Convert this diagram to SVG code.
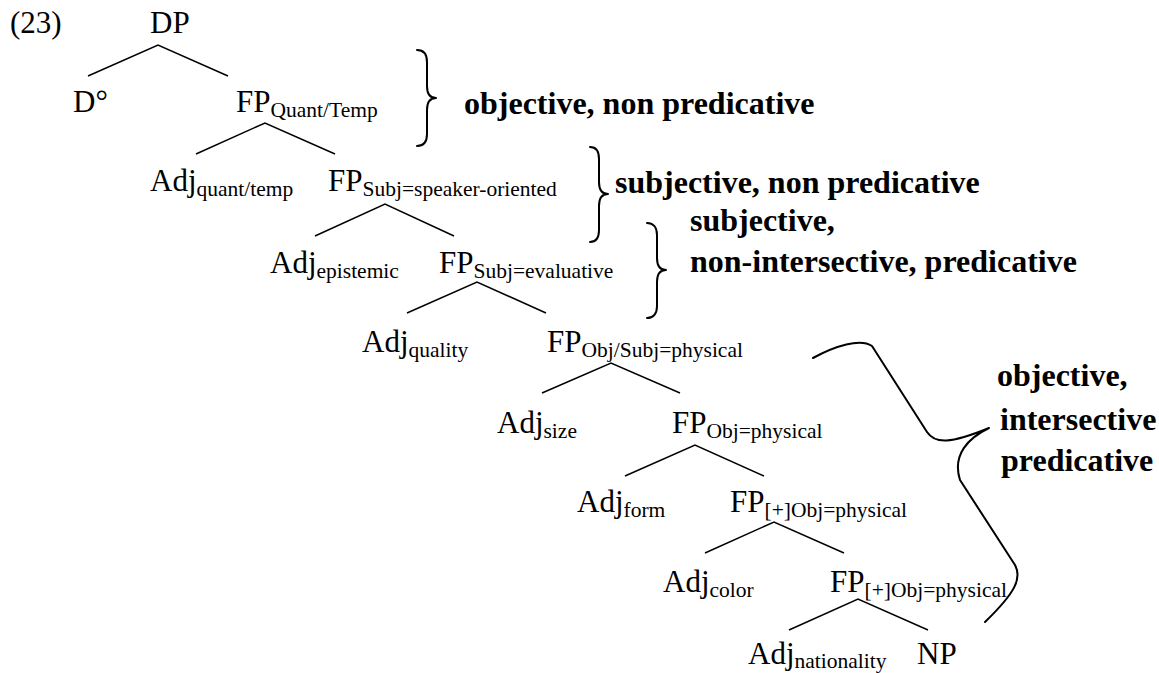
<svg xmlns="http://www.w3.org/2000/svg" width="1159" height="673" viewBox="0 0 1159 673">
<style>
text{font-family:'Liberation Serif','DejaVu Serif','Times New Roman',serif;fill:#000}
.n{font-size:31px}
.s{font-size:21.5px}
.b{font-size:32px;font-weight:bold}
.e{fill:none;stroke:#000;stroke-width:1.5}
.br{fill:none;stroke:#000;stroke-width:2;stroke-linecap:round;stroke-linejoin:round}
</style>
<rect width="1159" height="673" fill="#fff"/>
<g id="label23"><text class="n" x="10" y="33">(23)</text></g>
<g id="DP"><text class="n" x="150" y="33">DP</text></g>
<g id="Dzero"><text class="n" x="73" y="112">D°</text></g>
<g id="FP_QuantTemp"><text class="n" x="236" y="112">FP<tspan class="s" dy="5">Quant/Temp</tspan></text></g>
<g id="Adj_quanttemp"><text class="n" x="150" y="191">Adj<tspan class="s" dy="5">quant/temp</tspan></text></g>
<g id="FP_SubjSpeaker"><text class="n" x="328" y="191">FP<tspan class="s" dy="5">Subj=speaker-oriented</tspan></text></g>
<g id="Adj_epistemic"><text class="n" x="270" y="273">Adj<tspan class="s" dy="5">epistemic</tspan></text></g>
<g id="FP_SubjEval"><text class="n" x="439" y="273">FP<tspan class="s" dy="5">Subj=evaluative</tspan></text></g>
<g id="Adj_quality"><text class="n" x="362" y="352">Adj<tspan class="s" dy="5">quality</tspan></text></g>
<g id="FP_ObjSubjPhys"><text class="n" x="547" y="352">FP<tspan class="s" dy="5">Obj/Subj=physical</tspan></text></g>
<g id="Adj_size"><text class="n" x="497" y="433">Adj<tspan class="s" dy="5">size</tspan></text></g>
<g id="FP_ObjPhys"><text class="n" x="672" y="433">FP<tspan class="s" dy="5">Obj=physical</tspan></text></g>
<g id="Adj_form"><text class="n" x="577" y="512">Adj<tspan class="s" dy="5">form</tspan></text></g>
<g id="FP_PlusObjPhys1"><text class="n" x="730" y="512">FP<tspan class="s" dy="5">[+]Obj=physical</tspan></text></g>
<g id="Adj_color"><text class="n" x="663" y="592">Adj<tspan class="s" dy="5">color</tspan></text></g>
<g id="FP_PlusObjPhys2"><text class="n" x="830" y="592">FP<tspan class="s" dy="5">[+]Obj=physical</tspan></text></g>
<g id="Adj_nationality"><text class="n" x="748" y="664">Adj<tspan class="s" dy="4">nationality</tspan></text></g>
<g id="NP"><text class="n" x="917" y="664">NP</text></g>

<g id="connectors">
<path class="e" d="M88,76 L158,45 L228,76"/>
<path class="e" d="M196,154 L265,123 L335,154"/>
<path class="e" d="M315,236 L385,204 L454,236"/>
<path class="e" d="M407,313 L477,282 L546,313"/>
<path class="e" d="M542,393 L611,363 L680,393"/>
<path class="e" d="M625,476 L695,445 L764,476"/>
<path class="e" d="M705,553 L774,522 L844,553"/>
<path class="e" d="M789,630 L858,599 L928,630"/>
</g>

<g id="brace1">
<path class="br" d="M417,50 C424,50 427,54 427,62 L427,86 C427,94 430,98 436,98 C430,98 427,102 427,110 L427,134 C427,142 424,146 417,146"/>
<text class="b" x="464" y="114">objective, non predicative</text>
</g>
<g id="brace2">
<path class="br" d="M590,147 C596,147 599,151 599,159 L599,182 C599,190 602,194 608,194 C602,194 599,198 599,206 L599,230 C599,238 596,242 590,242"/>
<text class="b" x="615" y="193">subjective, non predicative</text>
</g>
<g id="brace3">
<path class="br" d="M647,223 C653,223 657,227 657,235 L657,258 C657,266 660,270 666,270 C660,270 657,274 657,282 L657,306 C657,314 653,318 647,318"/>
<text class="b" x="690" y="231">subjective,</text>
<text class="b" x="690" y="272">non-intersective, predicative</text>
</g>
<g id="brace4">
<path class="br" d="M813,358 C835,346 860,338 872,346 L927,432 C935,444 950,444 989,428 C968,438 952,455 960,480 L1015,565 C1022,578 1016,592 985,622"/>
<text class="b" x="997" y="386">objective,</text>
<text class="b" x="1000" y="430">intersective</text>
<text class="b" x="1001" y="471">predicative</text>
</g>
</svg>
